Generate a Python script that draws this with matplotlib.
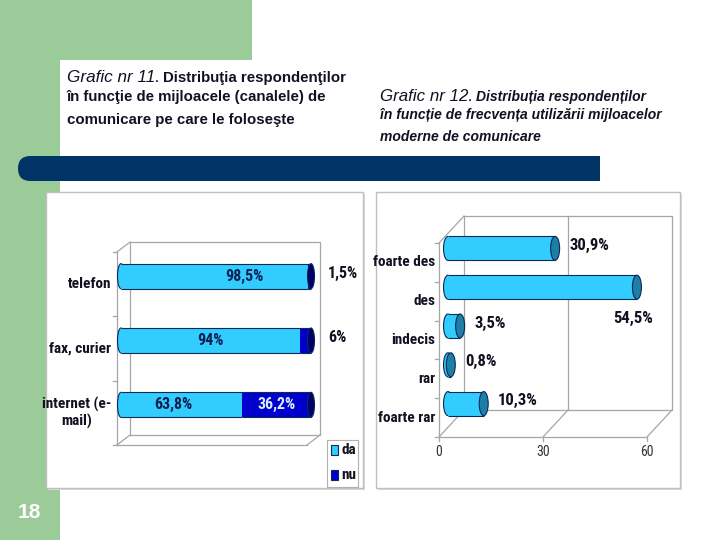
import matplotlib
matplotlib.use("Agg")
import matplotlib.pyplot as plt
from matplotlib import font_manager
from matplotlib.patches import Rectangle, FancyBboxPatch, Ellipse

# chart 11: communication channels (da / nu, %)
channels = ["telefon", "fax, curier", "internet (e-\nmail)"]
da_vals = [98.5, 94.0, 63.8]
nu_vals = [1.5, 6.0, 36.2]
da_labels = ["98,5%", "94%", "63,8%"]
nu_labels = ["1,5%", "6%", "36,2%"]

# chart 12: frequency of use (%)
freq_cats = ["foarte des", "des", "indecis", "rar", "foarte rar"]
freq_vals = [30.9, 54.5, 3.5, 0.8, 10.3]
freq_labels = ["30,9%", "54,5%", "3,5%", "0,8%", "10,3%"]
freq_ticks = [0, 30, 60]

GREEN = "#9bcb98"
NAVY = "#003366"
CYAN = "#33ccff"
BLUE = "#0000cc"
EDGE = "#0a2a5a"
GRID = "#a6a6a6"
TXT = "#111122"

# pick a narrow bold face (chart labels look like Arial Narrow)
fonts = font_manager.fontManager.ttflist
SANS = "Liberation Sans"
NARROW = SANS
for cand in ["Liberation Sans Narrow", "Arial Narrow", "Roboto Condensed",
             "Archivo Narrow", "Open Sans Condensed", "Barlow Semi Condensed"]:
    if any(f.name == cand and int(f.weight) >= 600 and f.style == "normal" for f in fonts):
        NARROW = cand
        break

fig = plt.figure(figsize=(7.2, 5.4), dpi=100)
bg = fig.add_axes([0, 0, 1, 1])
bg.set_xlim(0, 720)
bg.set_ylim(540, 0)
bg.axis("off")

# slide background
bg.add_patch(Rectangle((0, 0), 252, 60, color=GREEN, lw=0))
bg.add_patch(Rectangle((0, 0), 60, 540, color=GREEN, lw=0))
bg.add_patch(FancyBboxPatch((60, 60), 700, 520, boxstyle="round,pad=0,rounding_size=22",
                            fc="white", ec="none"))
bg.add_patch(FancyBboxPatch((18, 156), 582, 25, boxstyle="round,pad=0,rounding_size=12.5",
                            fc=NAVY, ec="none"))
bg.add_patch(Rectangle((300, 156), 300, 25, color=NAVY, lw=0))
bg.text(29, 512, "18", color="white", fontsize=15, fontweight="bold", family=SANS,
        ha="center", va="center")

# chart frames
for x0, w in [(46, 317), (376, 304)]:
    bg.add_patch(Rectangle((x0 + 2, 194), w, 296, fc="#d9d9d9", ec="none"))
    bg.add_patch(Rectangle((x0, 192), w, 296, fc="white", ec="#c0c0c0", lw=1))

# titles
renderer = fig.canvas.get_renderer()


def text_runs(x, y, runs):
    for s, kw in runs:
        t = bg.text(x, y, s, va="baseline", color=TXT, family=SANS, **kw)
        x += t.get_window_extent(renderer).width + 3


text_runs(67, 82, [("Grafic nr 11.", dict(fontsize=12.3, style="italic")),
                   ("Distribuţia respondenţilor", dict(fontsize=10.8, fontweight="bold"))])
bg.text(67, 101, "în funcţie de mijloacele (canalele) de", va="baseline", color=TXT,
        family=SANS, fontsize=10.8, fontweight="bold")
bg.text(67, 124, "comunicare pe care le foloseşte", va="baseline", color=TXT,
        family=SANS, fontsize=10.8, fontweight="bold")
text_runs(380, 101, [("Grafic nr 12.", dict(fontsize=12.2, style="italic")),
                     ("Distribuția respondenților",
                      dict(fontsize=10, fontweight="bold", style="italic"))])
bg.text(380, 119, "în funcție de frecvența utilizării mijloacelor", va="baseline",
        color=TXT, family=SANS, fontsize=10, fontweight="bold", style="italic")
bg.text(380, 141, "moderne de comunicare", va="baseline", color=TXT, family=SANS,
        fontsize=10, fontweight="bold", style="italic")


def make_axes(x_left, x_right, y_top, y_bottom, xmax, ny):
    ax = fig.add_axes([x_left / 720, 1 - y_bottom / 540,
                       (x_right - x_left) / 720, (y_bottom - y_top) / 540])
    ax.set_xlim(0, xmax)
    ax.set_ylim(0, ny)
    ax.axis("off")
    ux = xmax / (x_right - x_left)
    uy = ny / (y_bottom - y_top)
    return ax, ux, uy


def frame(ax, xmax, ny, bx, by, ux, uy, grid=()):
    kw = dict(color=GRID, lw=0.9, clip_on=False, zorder=1)
    ax.plot([bx, bx + xmax, bx + xmax, bx, bx], [by, by, by + ny, by + ny, by], **kw)
    ax.plot([0, 0], [0, ny], **kw)
    ax.plot([0, xmax], [0, 0], **kw)
    for yy in (0, ny):
        ax.plot([0, bx], [yy, yy + by], **kw)
    for xx in list(grid) + [xmax]:
        ax.plot([xx, xx + bx], [0, by], **kw)
    for xx in grid:
        ax.plot([xx + bx, xx + bx], [by, by + ny], **kw)
    for k in range(ny + 1):
        ax.plot([-4 * ux, 0], [k, k], **kw)


def cylinder(ax, y, left, right, h, cap_w, color, draw_left=True):
    if draw_left:
        ax.add_patch(Ellipse((left, y), cap_w, h, fc=color, ec=EDGE, lw=0.8,
                             clip_on=False, zorder=3))
    ax.barh(y, right - left, left=left, height=h, color=color, lw=0,
            clip_on=False, zorder=4)
    ax.hlines([y - h / 2, y + h / 2], left, right, color=EDGE, lw=0.8,
              clip_on=False, zorder=5)


def cap(ax, y, x, h, cap_w, color):
    ax.add_patch(Ellipse((x, y), cap_w, h, fc=color, ec=EDGE, lw=0.8,
                         clip_on=False, zorder=6))


LBL = dict(fontweight="bold", family=NARROW)

# ---- chart 11 ----
n1 = len(channels)
ax1, ux1, uy1 = make_axes(117, 307, 252, 445, 100, n1)
frame(ax1, 100, n1, 13 * ux1, 10 * uy1, ux1, uy1)
ox1, oy1 = 4 * ux1, 8 * uy1
h1 = 25 * uy1
cw1 = 7 * ux1
label_dx = [30, 0, -8]
for i, (name, da, nu) in enumerate(zip(channels, da_vals, nu_vals)):
    yc = n1 - 1 - i + 0.5
    yb = yc + oy1
    cylinder(ax1, yb, ox1, ox1 + da, h1, cw1, CYAN)
    cylinder(ax1, yb, ox1 + da, ox1 + da + nu, h1, cw1, BLUE, draw_left=False)
    cap(ax1, yb, ox1 + da + nu, h1, cw1, "#000066")
    ax1.text(-6 * ux1, yc, name, ha="right", va="center", multialignment="center",
             fontsize=11, color=TXT, **LBL)
    ax1.text(ox1 + da / 2 + label_dx[i] * ux1, yb, da_labels[i], ha="center", va="center",
             fontsize=11.5, color="#0a2050", zorder=8, **LBL)
    if nu > 20:
        ax1.text(ox1 + da + nu / 2, yb, nu_labels[i], ha="center", va="center",
                 fontsize=11.5, color="#d8ecff", zorder=8, **LBL)
    else:
        ax1.text(ox1 + 100 + 17 * ux1, yb + 3 * uy1, nu_labels[i], ha="left", va="center",
                 fontsize=11.5, color=TXT, **LBL)

# legend
bg.add_patch(Rectangle((327, 440), 31, 47, fc="white", ec="#b0b0b0", lw=0.8))
for j, (lab, col) in enumerate([("da", CYAN), ("nu", BLUE)]):
    yy = 445 + j * 25
    bg.add_patch(Rectangle((331, yy), 7, 10, fc=col, ec=EDGE, lw=0.8))
    bg.text(341, yy + 5, lab, va="center", fontsize=11, color=TXT, **LBL)

# ---- chart 12 ----
n2 = len(freq_cats)
ax2, ux2, uy2 = make_axes(439, 647, 243, 437, 60, n2)
frame(ax2, 60, n2, 25 * ux2, 27 * uy2, ux2, uy2, grid=[30])
ox2, oy2 = 9 * ux2, 14 * uy2
h2 = 24 * uy2
cw2 = 9 * ux2
for i, (name, v) in enumerate(zip(freq_cats, freq_vals)):
    yc = n2 - 1 - i + 0.5
    yb = yc + oy2
    cylinder(ax2, yb, ox2, ox2 + v, h2, cw2, CYAN)
    cap(ax2, yb, ox2 + v, h2, cw2, "#1f7ea6")
    ax2.text(-4 * ux2, yc, name, ha="right", va="center", fontsize=11, color=TXT, **LBL)
    if v > 50:
        ax2.text(ox2 + v - 4 * ux2, yb - 31 * uy2, freq_labels[i], ha="center",
                 va="center", fontsize=12, color=TXT, **LBL)
    else:
        ax2.text(ox2 + v + 14 * ux2, yb + 3 * uy2, freq_labels[i], ha="left",
                 va="center", fontsize=12, color=TXT, **LBL)
for t in freq_ticks:
    ax2.plot([t, t], [0, -4 * uy2], color=GRID, lw=0.9, clip_on=False)
    ax2.text(t, -15 * uy2, str(t), ha="center", va="center", fontsize=10,
             family=NARROW, color="#333333")

fig.savefig("out.png", dpi=100)
